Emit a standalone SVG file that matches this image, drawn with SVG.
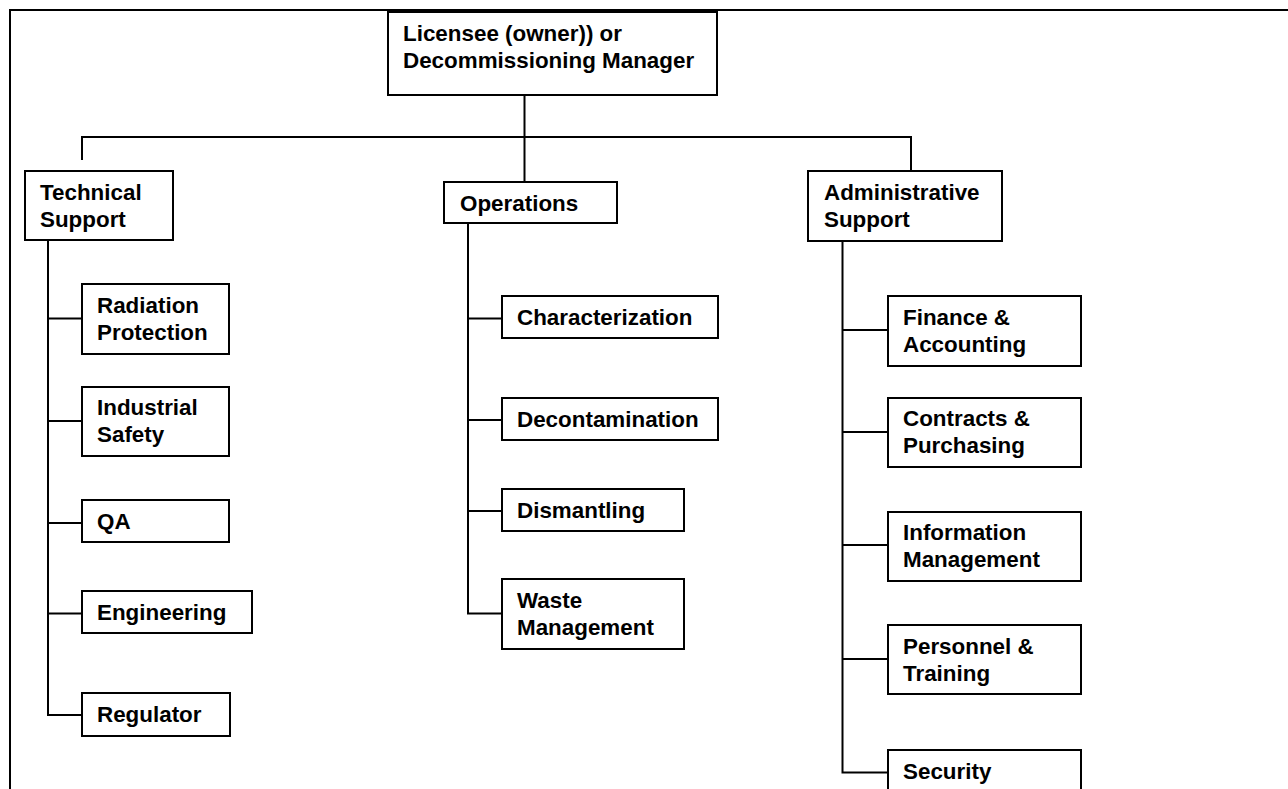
<svg xmlns="http://www.w3.org/2000/svg" width="1288" height="789" viewBox="0 0 1288 789">
<style>
.box{fill:#fff;stroke:#000;stroke-width:2}
.ln{fill:none;stroke:#000;stroke-width:2}
.t{font-family:"Liberation Sans",Arial,sans-serif;font-weight:bold;font-size:22.4px;fill:#000}
</style>
<rect width="1288" height="789" fill="#fff"/>
<path class="ln" d="M10 789 V10 H1288" stroke-width="2.5"/>
<g id="connectors">
<path class="ln" d="M524.5 95 V182"/>
<path class="ln" d="M82 160 V137 H911 V171"/>
<path class="ln" d="M48 240 V715 H82 M48 318.5 H82 M48 421 H82 M48 523 H82 M48 613.5 H82"/>
<path class="ln" d="M468 223 V613.5 H502 M468 318.5 H502 M468 420 H502 M468 511 H502"/>
<path class="ln" d="M842.5 241 V772.5 H888 M842.5 330 H888 M842.5 432 H888 M842.5 545 H888 M842.5 659 H888"/>
</g>
<g id="top"><rect class="box" x="388" y="12" width="329" height="83"/><text class="t" x="403" y="41">Licensee (owner)) or</text><text class="t" x="403" y="68">Decommissioning Manager</text></g>
<g id="tech"><rect class="box" x="25" y="171" width="148" height="69"/><text class="t" x="40" y="200">Technical</text><text class="t" x="40" y="227">Support</text></g>
<g id="ops"><rect class="box" x="444" y="182" width="173" height="41"/><text class="t" x="460" y="211">Operations</text></g>
<g id="admin"><rect class="box" x="808" y="171" width="194" height="70"/><text class="t" x="824" y="200">Administrative</text><text class="t" x="824" y="227">Support</text></g>
<g id="radiation"><rect class="box" x="82" y="284" width="147" height="70"/><text class="t" x="97" y="312.5">Radiation</text><text class="t" x="97" y="339.5">Protection</text></g>
<g id="industrial"><rect class="box" x="82" y="387" width="147" height="69"/><text class="t" x="97" y="415">Industrial</text><text class="t" x="97" y="442">Safety</text></g>
<g id="qa"><rect class="box" x="82" y="500" width="147" height="42"/><text class="t" x="97" y="528.5">QA</text></g>
<g id="engineering"><rect class="box" x="82" y="591" width="170" height="42"/><text class="t" x="97" y="620">Engineering</text></g>
<g id="regulator"><rect class="box" x="82" y="693" width="148" height="43"/><text class="t" x="97" y="722">Regulator</text></g>
<g id="characterization"><rect class="box" x="502" y="296" width="216" height="42"/><text class="t" x="517" y="324.5">Characterization</text></g>
<g id="decontamination"><rect class="box" x="502" y="398" width="216" height="42"/><text class="t" x="517" y="427">Decontamination</text></g>
<g id="dismantling"><rect class="box" x="502" y="489" width="182" height="42"/><text class="t" x="517" y="518">Dismantling</text></g>
<g id="waste"><rect class="box" x="502" y="579" width="182" height="70"/><text class="t" x="517" y="607.5">Waste</text><text class="t" x="517" y="634.5">Management</text></g>
<g id="finance"><rect class="box" x="888" y="296" width="193" height="70"/><text class="t" x="903" y="324.5">Finance &amp;</text><text class="t" x="903" y="351.5">Accounting</text></g>
<g id="contracts"><rect class="box" x="888" y="398" width="193" height="69"/><text class="t" x="903" y="426">Contracts &amp;</text><text class="t" x="903" y="453">Purchasing</text></g>
<g id="information"><rect class="box" x="888" y="512" width="193" height="69"/><text class="t" x="903" y="540">Information</text><text class="t" x="903" y="567">Management</text></g>
<g id="personnel"><rect class="box" x="888" y="625" width="193" height="69"/><text class="t" x="903" y="653.5">Personnel &amp;</text><text class="t" x="903" y="680.5">Training</text></g>
<g id="security"><rect class="box" x="888" y="750" width="193" height="60"/><text class="t" x="903" y="778.5">Security</text></g>
</svg>
